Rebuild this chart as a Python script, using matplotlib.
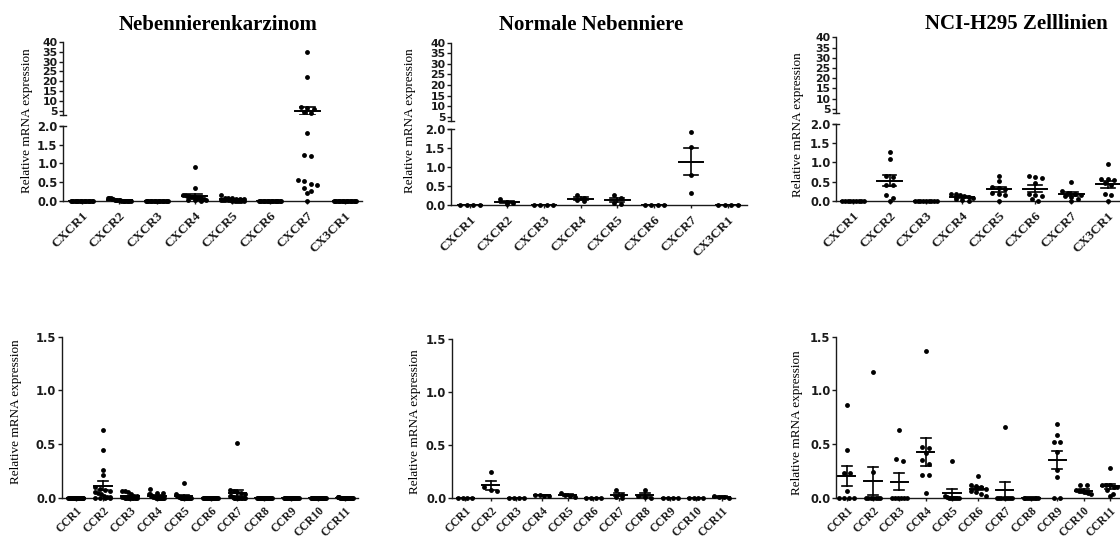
import numpy as np
import matplotlib
matplotlib.use("Agg")
import matplotlib.pyplot as plt

W, H, DPI = 1120, 539, 100

# ---------------- data ----------------
cxcr_labels = ["CXCR1", "CXCR2", "CXCR3", "CXCR4", "CXCR5", "CXCR6", "CXCR7", "CX3CR1"]
ccr_labels = ["CCR1", "CCR2", "CCR3", "CCR4", "CCR5", "CCR6", "CCR7", "CCR8", "CCR9", "CCR10", "CCR11"]
titles = ["Nebennierenkarzinom", "Normale Nebenniere", "NCI-H295 Zelllinien"]
ylabel = "Relative mRNA expression"

z18 = [0, 0, 0, 0, 0, 0, 0, 0, 0, 0, 0, 0, 0, 0, 0, 0, 0, 0]
z9 = [0, 0, 0, 0, 0, 0, 0, 0, 0]
z4 = [0, 0, 0, 0]

# Nebennierenkarzinom (CXCR)
acc_cxcr1 = z18
acc_cxcr2 = [0.07, 0.06, 0.06, 0.05, 0.04, 0.03, 0.02, 0.02, 0.01, 0.01, 0, 0, 0, 0, 0, 0, 0, 0]
acc_cxcr3 = z18
acc_cxcr4 = [0.9, 0.33, 0.15, 0.14, 0.13, 0.12, 0.1, 0.1, 0.09, 0.08, 0.07, 0.06, 0.05, 0.04, 0.03, 0.02, 0.01, 0]
acc_cxcr5 = [0.16, 0.08, 0.07, 0.06, 0.05, 0.05, 0.04, 0.03, 0.02, 0.02, 0.01, 0.01, 0, 0, 0, 0, 0, 0]
acc_cxcr6 = z18
acc_cxcr7 = [35, 22, 6.8, 6.5, 6.2, 4.5, 4.2, 1.8, 1.22, 1.2, 0.55, 0.53, 0.45, 0.43, 0.35, 0.27, 0.2, 0]
acc_cx3cr1 = z18

# Normale Nebenniere (CXCR)
nor_cxcr1 = z4
nor_cxcr2 = [0.15, 0.09, 0.04, 0.02]
nor_cxcr3 = z4
nor_cxcr4 = [0.26, 0.19, 0.12, 0.1]
nor_cxcr5 = [0.26, 0.18, 0.05, 0.03]
nor_cxcr6 = z4
nor_cxcr7 = [1.91, 1.52, 0.79, 0.32]
nor_cx3cr1 = z4

# NCI-H295 (CXCR)
h295_cxcr1 = z9
h295_cxcr2 = [1.28, 1.08, 0.64, 0.62, 0.42, 0.40, 0.16, 0.06, 0]
h295_cxcr3 = z9
h295_cxcr4 = [0.18, 0.17, 0.15, 0.12, 0.1, 0.08, 0.05, 0.02, 0]
h295_cxcr5 = [0.64, 0.52, 0.36, 0.33, 0.3, 0.2, 0.17, 0.15, 0]
h295_cxcr6 = [0.65, 0.63, 0.6, 0.45, 0.17, 0.15, 0.12, 0.05, 0]
h295_cxcr7 = [0.5, 0.25, 0.2, 0.18, 0.15, 0.12, 0.1, 0.05, 0]
h295_cx3cr1 = [0.97, 0.57, 0.56, 0.54, 0.45, 0.4, 0.17, 0.15, 0]

# Nebennierenkarzinom (CCR)
acc_ccr1 = z18
acc_ccr2 = [0.63, 0.44, 0.26, 0.21, 0.1, 0.08, 0.07, 0.06, 0.05, 0.04, 0.03, 0.02, 0.01, 0.01, 0, 0, 0, 0]
acc_ccr3 = [0.06, 0.06, 0.05, 0.03, 0.02, 0.02, 0.01, 0.01, 0, 0, 0, 0, 0, 0, 0, 0, 0, 0]
acc_ccr4 = [0.08, 0.04, 0.04, 0.03, 0.03, 0.02, 0.02, 0.01, 0.01, 0, 0, 0, 0, 0, 0, 0, 0, 0]
acc_ccr5 = [0.14, 0.03, 0.02, 0.02, 0.01, 0.01, 0, 0, 0, 0, 0, 0, 0, 0, 0, 0, 0, 0]
acc_ccr6 = z18
acc_ccr7 = [0.51, 0.07, 0.06, 0.05, 0.04, 0.03, 0.02, 0.02, 0.01, 0, 0, 0, 0, 0, 0, 0, 0, 0]
acc_ccr8 = z18
acc_ccr9 = z18
acc_ccr10 = z18
acc_ccr11 = [0.01, 0.01, 0.005, 0, 0, 0, 0, 0, 0, 0, 0, 0, 0, 0, 0, 0, 0, 0]

# Normale Nebenniere (CCR)
nor_ccr1 = z4
nor_ccr2 = [0.24, 0.1, 0.07, 0.06]
nor_ccr3 = z4
nor_ccr4 = [0.03, 0.03, 0.02, 0.02]
nor_ccr5 = [0.04, 0.03, 0.02, 0.01]
nor_ccr6 = z4
nor_ccr7 = [0.07, 0.03, 0.01, 0]
nor_ccr8 = [0.07, 0.02, 0.01, 0]
nor_ccr9 = z4
nor_ccr10 = z4
nor_ccr11 = [0.02, 0.01, 0.01, 0]

# NCI-H295 (CCR)
h295_ccr1 = [0.86, 0.44, 0.23, 0.23, 0.06, 0, 0, 0, 0]
h295_ccr2 = [1.17, 0.24, 0, 0, 0, 0, 0, 0, 0]
h295_ccr3 = [0.63, 0.36, 0.34, 0, 0, 0, 0, 0, 0]
h295_ccr4 = [1.37, 0.47, 0.46, 0.42, 0.35, 0.31, 0.21, 0.21, 0.04]
h295_ccr5 = [0.34, 0.02, 0.01, 0, 0, 0, 0, 0, 0]
h295_ccr6 = [0.2, 0.12, 0.11, 0.1, 0.08, 0.06, 0.05, 0.03, 0.02]
h295_ccr7 = [0.66, 0, 0, 0, 0, 0, 0, 0, 0]
h295_ccr8 = z9
h295_ccr9 = [0.69, 0.58, 0.52, 0.52, 0.43, 0.26, 0.19, 0, 0]
h295_ccr10 = [0.12, 0.12, 0.07, 0.06, 0.06, 0.05, 0.05, 0.04, 0.03]
h295_ccr11 = [0.28, 0.12, 0.12, 0.12, 0.1, 0.1, 0.07, 0.03, 0.02]

top_data = [
    [acc_cxcr1, acc_cxcr2, acc_cxcr3, acc_cxcr4, acc_cxcr5, acc_cxcr6, acc_cxcr7, acc_cx3cr1],
    [nor_cxcr1, nor_cxcr2, nor_cxcr3, nor_cxcr4, nor_cxcr5, nor_cxcr6, nor_cxcr7, nor_cx3cr1],
    [h295_cxcr1, h295_cxcr2, h295_cxcr3, h295_cxcr4, h295_cxcr5, h295_cxcr6, h295_cxcr7, h295_cx3cr1],
]
bot_data = [
    [acc_ccr1, acc_ccr2, acc_ccr3, acc_ccr4, acc_ccr5, acc_ccr6, acc_ccr7, acc_ccr8, acc_ccr9, acc_ccr10, acc_ccr11],
    [nor_ccr1, nor_ccr2, nor_ccr3, nor_ccr4, nor_ccr5, nor_ccr6, nor_ccr7, nor_ccr8, nor_ccr9, nor_ccr10, nor_ccr11],
    [h295_ccr1, h295_ccr2, h295_ccr3, h295_ccr4, h295_ccr5, h295_ccr6, h295_ccr7, h295_ccr8, h295_ccr9, h295_ccr10, h295_ccr11],
]

# ---------------- layout (pixels) ----------------
top_layout = [
    dict(l=63, r=362, y0=200.7, y2=126, yub=115, y40=41.7, xlim=(-0.5, 7.45)),
    dict(l=451, r=747, y0=205, y2=129, yub=121, y40=42.7, xlim=(-0.515, 7.515)),
    dict(l=836, r=1125, y0=200.7, y2=124, yub=113, y40=37.3, xlim=(-0.47, 7.47)),
]
bot_layout = [
    dict(l=61.7, r=358, y0=497.7, y15=336.7, xlim=(-0.53, 10.48)),
    dict(l=451.7, r=735, y0=497.7, y15=339, xlim=(-0.52, 10.52)),
    dict(l=836, r=1123, y0=497.7, y15=336.7, xlim=(-0.41, 10.5)),
]
title_pos = [(218, 25), (591, 25), (1016, 24)]
ylab_top = [(27, 121), (410, 121), (798, 125)]
ylab_bot = [(16, 412), (415, 422), (797, 423)]

AXC = "#1a1a1a"
TICKFONT = dict(family="DejaVu Sans", weight="bold", size=8.3)
TICKFONT_UP = dict(family="DejaVu Sans", weight="bold", size=7.8)
XFONT_TOP = dict(family="Liberation Serif", weight="bold", size=9.6)
XFONT_BOT = dict(family="Liberation Serif", weight="bold", size=8.4)

fig = plt.figure(figsize=(W / DPI, H / DPI), dpi=DPI)


def add_ax(l, r, ybot, ytop):
    return fig.add_axes([l / W, (H - ybot) / H, (r - l) / W, (ybot - ytop) / H])


def style_y(ax, ticks, fmt, font):
    ax.set_yticks(ticks)
    ax.set_yticklabels([fmt % t for t in ticks], fontdict=font)
    ax.tick_params(axis="y", length=3, width=1.0, pad=1, colors=AXC)
    ax.spines["left"].set_linewidth(1.0)
    ax.spines["left"].set_color(AXC)
    for s in ["top", "right"]:
        ax.spines[s].set_visible(False)
    ax.patch.set_alpha(0)


def style_x(ax, labels, font, pad):
    ax.set_xticks(range(len(labels)))
    ax.set_xticklabels(labels, fontdict=font, rotation=45, ha="right", va="top",
                       rotation_mode="anchor")
    ax.tick_params(axis="x", length=2.5, width=1.0, pad=pad, colors=AXC)
    ax.spines["bottom"].set_linewidth(1.0)
    ax.spines["bottom"].set_color(AXC)


def swarm_offsets(pys, d, wmax):
    order = np.argsort(-np.asarray(pys))
    rows, cur, start = [], [], None
    for i in order:
        if start is None or abs(pys[i] - start) > d * 0.7:
            if cur:
                rows.append(cur)
            cur, start = [i], pys[i]
        else:
            cur.append(i)
    if cur:
        rows.append(cur)
    offs = np.zeros(len(pys))
    for row in rows:
        k = len(row)
        sp = d if k == 1 else min(d, 2 * wmax / (k - 1))
        for j, i in enumerate(row):
            offs[i] = (j - (k - 1) / 2) * sp
    return offs


def draw_group(axes_list, split, xc, vals, d_px, wmax_px):
    low = axes_list[0]
    pxx = low.transData.transform((1, 0))[0] - low.transData.transform((0, 0))[0]
    pys = []
    for v in vals:
        a = low if (axes_list[1] is None or v <= split) else axes_list[1]
        pys.append(a.transData.transform((0, v))[1])
    offs = swarm_offsets(pys, d_px, wmax_px) / pxx
    for v, o in zip(vals, offs):
        a = low if (axes_list[1] is None or v <= split) else axes_list[1]
        a.plot([xc + o], [v], "o", ms=3.5, color="black", mec="black", mew=0,
               clip_on=False, zorder=4)
    arr = np.asarray(vals, dtype=float)
    m = arr.mean()
    sem = arr.std(ddof=1) / np.sqrt(len(arr))
    for a in axes_list:
        if a is None:
            continue
        a.plot([xc - 0.33, xc + 0.33], [m, m], color="black", lw=1.4, zorder=5)
        if sem > 0:
            a.plot([xc, xc], [m - sem, m + sem], color="black", lw=1.2, zorder=5)
            for yy in (m - sem, m + sem):
                a.plot([xc - 0.19, xc + 0.19], [yy, yy], color="black", lw=1.2, zorder=5)


def break_mark(ax, y_axes, half_px):
    w_px = ax.get_position().width * W
    f = half_px / w_px
    ax.plot([-f, f], [y_axes, y_axes], transform=ax.transAxes, color=AXC, lw=1.0,
            clip_on=False)


# ---------------- top row ----------------
for p in range(3):
    L = top_layout[p]
    low = add_ax(L["l"], L["r"], L["y0"], L["y2"])
    up = add_ax(L["l"], L["r"], L["yub"], L["y40"])
    low.set_xlim(*L["xlim"])
    up.set_xlim(*L["xlim"])
    low.set_ylim(0, 2.0)
    up.set_ylim(3, 40)
    style_y(low, [0, 0.5, 1.0, 1.5, 2.0], "%.1f", TICKFONT)
    style_y(up, [5, 10, 15, 20, 25, 30, 35, 40], "%d", TICKFONT_UP)
    style_x(low, cxcr_labels, XFONT_TOP, 4)
    up.spines["bottom"].set_visible(False)
    up.set_xticks([])
    break_mark(low, 1.0, 3)
    break_mark(up, 0.0, 3)
    sp = (L["r"] - L["l"]) / (L["xlim"][1] - L["xlim"][0])
    for i, vals in enumerate(top_data[p]):
        draw_group([low, up], 2.0, i, vals, 6.5, 0.3 * sp)
    fig.text(title_pos[p][0] / W, 1 - title_pos[p][1] / H, titles[p], ha="center",
             va="center", family="Liberation Serif", weight="bold", fontsize=15)
    fig.text(ylab_top[p][0] / W, 1 - ylab_top[p][1] / H, ylabel, rotation=90,
             ha="center", va="center", family="Liberation Serif", fontsize=9.5)

# ---------------- bottom row ----------------
for p in range(3):
    L = bot_layout[p]
    ax = add_ax(L["l"], L["r"], L["y0"], L["y15"])
    ax.set_xlim(*L["xlim"])
    ax.set_ylim(0, 1.5)
    style_y(ax, [0, 0.5, 1.0, 1.5], "%.1f", TICKFONT)
    style_x(ax, ccr_labels, XFONT_BOT, 2.5)
    sp = (L["r"] - L["l"]) / (L["xlim"][1] - L["xlim"][0])
    for i, vals in enumerate(bot_data[p]):
        draw_group([ax, None], 1.5, i, vals, 6.5, 0.28 * sp)
    fig.text(ylab_bot[p][0] / W, 1 - ylab_bot[p][1] / H, ylabel, rotation=90,
             ha="center", va="center", family="Liberation Serif", fontsize=9.5)

fig.savefig("out.png", dpi=DPI)
